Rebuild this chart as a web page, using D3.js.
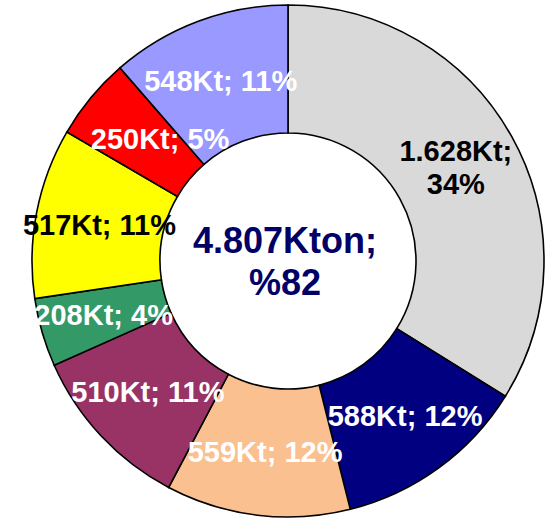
<!DOCTYPE html>
<meta charset="utf-8">
<script src="https://d3js.org/d3.v7.min.js"></script>
<style>
  body { margin: 0; background: #fff; }
</style>
<body>
<div id="my_dataviz"></div>
<script>

// data, clockwise from 12 o'clock
var values = [1628, 588, 559, 510, 208, 517, 250, 548]
var labels = ["1.628Kt;|34%", "588Kt; 12%", "559Kt; 12%", "510Kt; 11%", "208Kt; 4%", "517Kt; 11%", "250Kt; 5%", "548Kt; 11%"]
var colors = ["#D9D9D9", "#000080", "#FAC090", "#993366", "#339966", "#FFFF00", "#FF0000", "#9999FF"]
var textColors = ["#000", "#fff", "#fff", "#fff", "#fff", "#000", "#fff", "#fff"]
var centerLines = ["4.807Kton;", "%82"]

var width = 549
    height = 519
    cx = 288
    cy = 261
    outerR = 256
    innerR = 128

// small manual shifts of a few labels (x px), like in the original
var nudge = {1: 4, 6: 20}

var svg = d3.select("#my_dataviz")
  .append("svg")
    .attr("width", width)
    .attr("height", height)
  .append("g")
    .attr("transform", "translate(" + cx + "," + cy + ")");

var pie = d3.pie().sort(null).value(function(d) { return d; })
var data_ready = pie(values)

var arc = d3.arc().innerRadius(innerR).outerRadius(outerR)

svg.selectAll("path")
  .data(data_ready)
  .enter()
  .append("path")
    .attr("d", arc)
    .attr("fill", function(d, i) { return colors[i] })
    .attr("stroke", "#000")
    .style("stroke-width", "1.6px")

// slice labels at the arc centroid
var lab = svg.selectAll(".lab")
  .data(data_ready)
  .enter()
  .append("text")
    .attr("class", "lab")
    .attr("transform", function(d, i) {
      var c = arc.centroid(d)
      return "translate(" + (c[0] + (nudge[i] || 0)) + "," + c[1] + ")"
    })
    .attr("text-anchor", "middle")
    .style("font-family", "Liberation Sans, Arial, sans-serif")
    .style("font-weight", "bold")
    .style("font-size", "29px")
    .attr("fill", function(d, i) { return textColors[i] })

lab.each(function(d, i) {
  var lines = labels[i].split("|")
  var t = d3.select(this)
  lines.forEach(function(l, j) {
    t.append("tspan")
      .attr("x", 0)
      .attr("y", (j - (lines.length - 1) / 2) * 33 + 10)
      .text(l)
  })
})

// center text
svg.append("text")
    .attr("text-anchor", "middle")
    .style("font-family", "Liberation Sans, Arial, sans-serif")
    .style("font-weight", "bold")
    .style("font-size", "36px")
    .attr("fill", "#000066")
  .selectAll("tspan")
  .data(centerLines)
  .enter()
  .append("tspan")
    .attr("x", -3)
    .attr("y", function(d, i) { return -8 + i * 42 })
    .text(function(d) { return d })

</script>
</body>
